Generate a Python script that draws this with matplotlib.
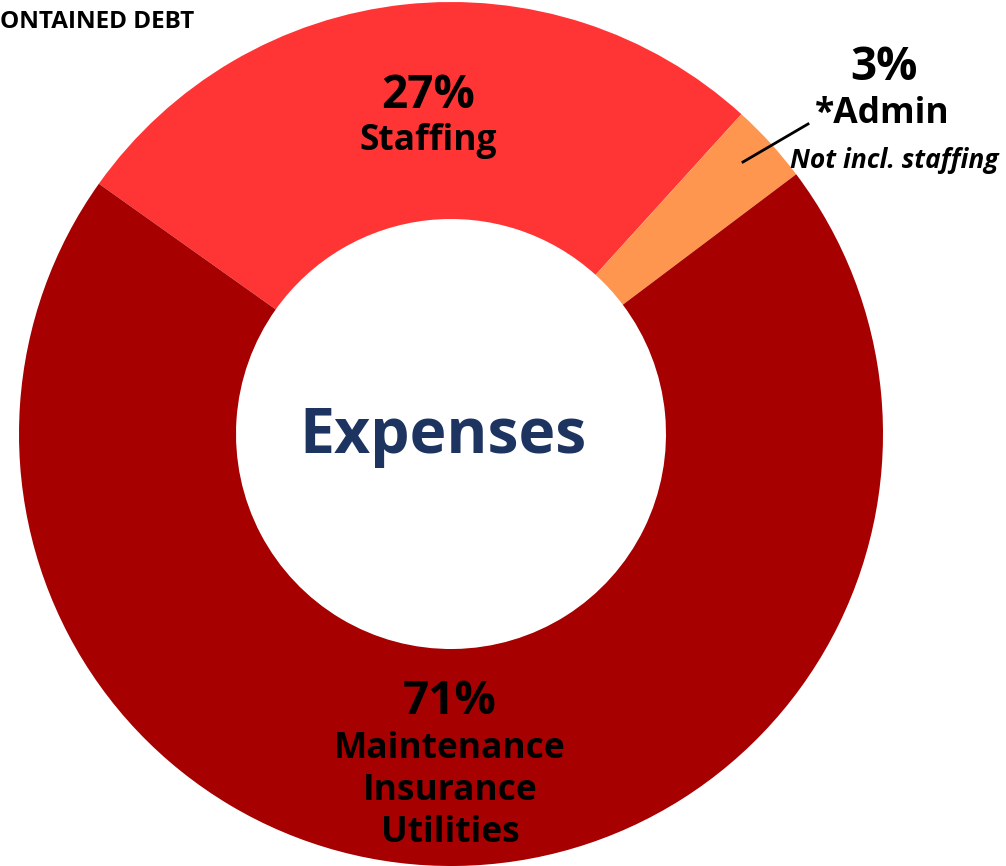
import matplotlib.pyplot as plt

# expense shares (label text is as printed on the chart)
categories = ["Staffing", "*Admin", "Maintenance"]
shares = [26.9, 3.0, 70.1]
pct_labels = ["27%", "3%", "71%"]
colors = ["#FF3535", "#FF9650", "#A60000"]

W, H = 1006, 866
fig = plt.figure(figsize=(W / 100, H / 100), dpi=100)
ax = fig.add_axes([0, 0, 1, 1])

cx, cy = 451, H - 434
r_out, r_in = 432, 215

ax.pie(shares, colors=colors, startangle=144.6, counterclock=False,
       center=(cx, cy), radius=r_out,
       wedgeprops=dict(width=r_out - r_in, linewidth=0), frame=True)
ax.set_xlim(0, W)
ax.set_ylim(0, H)
ax.set_aspect("equal")
ax.axis("off")

font = "Open Sans"


def txt(x, y, s, size, **kw):
    # y given in pixels from top; nudged down to match glyph centring
    ax.text(x, H - y - 5, s, ha="center", va="center", fontsize=size,
            fontweight="bold", family=font, **kw)


txt(443, 432, "Expenses", 45, color="#1D3461")

txt(428, 90, pct_labels[0], 33)
txt(428, 136, categories[0], 25.5)

txt(884, 63, pct_labels[1], 33)
txt(882, 109, categories[1], 25.5)
txt(894, 155, "Not incl. staffing", 19, style="italic")
ax.plot([743, 808], [H - 162, H - 124], color="black", lw=2)

txt(450, 696, pct_labels[2], 33)
txt(450, 744, categories[2], 25.5)
txt(450, 786, "Insurance", 25.5)
txt(450, 828, "Utilities", 25.5)

ax.text(0, H - 22, "ONTAINED DEBT", ha="left", va="center", fontsize=17.5,
        fontweight="bold", family=font)

fig.savefig("out.png", dpi=100)
